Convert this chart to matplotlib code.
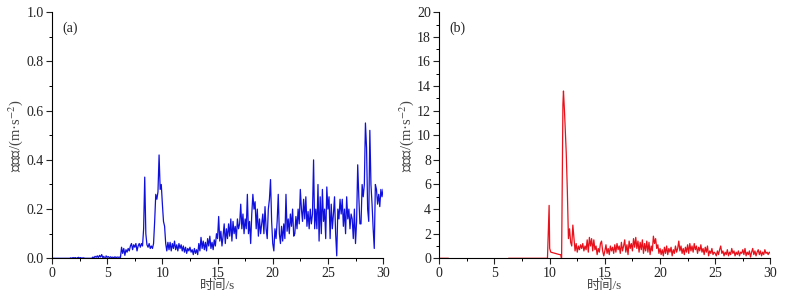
import numpy as np
import matplotlib
matplotlib.use("Agg")
import matplotlib.pyplot as plt
from matplotlib.ticker import MultipleLocator

plt.rcParams['mathtext.fontset'] = 'stix'
plt.rcParams['font.family'] = ['Liberation Serif', 'Noto Sans CJK SC', 'DejaVu Sans']

# ---------------- data (a) : 0.1 s steps, 0 .. 30 s ----------------
time_a = np.round(np.arange(0, 301) * 0.1, 1)
acc_a = [
    0, 0, 0, 0, 0, 0, 0, 0, 0, 0,
    0, 0, 0, 0, 0, 0, 0, 0.002, 0, 0.003,
    0.001, 0.003, 0, 0.002, 0.004, 0.001, 0.003, 0, 0.002, 0.001,
    0, 0, 0, 0, 0, 0, 0, 0.005, 0.002, 0.008,
    0.004, 0.01, 0.002, 0.012, 0.005, 0.015, 0.003, 0.008, -0.01, 0.01,
    0.004, 0.007, 0.002, 0.006, 0.003, 0.005, 0.002, 0.006, 0.003, 0.005,
    0.004, 0.005, 0.003, 0.045, 0.02, 0.04, 0.012, 0.035, 0.025, 0.04,
    0.03, 0.05, 0.06, 0.035, 0.055, 0.045, 0.06, 0.03, 0.05, 0.06,
    0.045, 0.06, 0.05, 0.12, 0.33, 0.1, 0.055, 0.045, 0.06, 0.04,
    0.05, 0.04, 0.06, 0.15, 0.26, 0.24, 0.27, 0.42, 0.28, 0.30,
    0.22, 0.15, 0.13, 0.06, 0.03, 0.065, 0.035, 0.065, 0.03, 0.06,
    0.04, 0.07, 0.035, 0.055, 0.03, 0.06, 0.04, 0.055, 0.03, 0.05,
    0.025, 0.045, 0.02, 0.04, 0.03, 0.045, 0.025, 0.035, 0.015, 0.04,
    0.02, 0.035, 0.015, 0.06, 0.03, 0.085, 0.04, 0.07, 0.035, 0.065,
    0.03, 0.08, 0.05, 0.09, 0.04, 0.065, 0.035, 0.075, 0.05, 0.10,
    0.08, 0.17, 0.07, 0.11, 0.05, 0.09, 0.14, 0.06, 0.12, 0.08,
    0.14, 0.09, 0.16, 0.07, 0.15, 0.10, 0.13, 0.08, 0.16, 0.12,
    0.14, 0.22, 0.12, 0.18, 0.10, 0.16, 0.12, 0.26, 0.10, 0.15,
    0.06, 0.18, 0.26, 0.20, 0.23, 0.12, 0.20, 0.09, 0.16, 0.10,
    0.14, 0.18, 0.10, 0.21, 0.12, 0.08, 0.20, 0.24, 0.32, 0.15,
    0.06, 0.03, 0.12, 0.08, 0.15, 0.26, 0.10, 0.06, 0.13, 0.07,
    0.14, 0.08, 0.26, 0.11, 0.16, 0.10, 0.18, 0.13, 0.20, 0.09,
    0.10, 0.17, 0.12, 0.20, 0.14, 0.28, 0.20, 0.15, 0.24, 0.16,
    0.25, 0.13, 0.19, 0.12, 0.20, 0.14, 0.18, 0.40, 0.12, 0.20,
    0.12, 0.30, 0.07, 0.25, 0.10, 0.28, 0.15, 0.20, 0.08, 0.29,
    0.20, 0.25, 0.08, 0.22, 0.12, 0.18, 0.25, 0.10, 0.01, 0.20,
    0.16, 0.24, 0.18, 0.24, 0.13, 0.20, 0.10, 0.25, 0.16, 0.20,
    0.12, 0.18, 0.16, 0.08, 0.20, 0.06, 0.15, 0.38, 0.25, 0.14,
    0.14, 0.30, 0.25, 0.30, 0.55, 0.45, 0.20, 0.15, 0.52, 0.30,
    0.22, 0.12, 0.04, 0.30, 0.28, 0.22, 0.26, 0.21, 0.28, 0.25,
    0.28,
]

# ---------------- data (b) ----------------
time_b = [0.0, 0.8, 0.81, 6.3, 9.8, 9.95, 10.0, 10.1, 10.3, 10.5, 10.7, 10.9, 11.0,
          11.08, 11.2, 11.25, 11.35, 11.5, 11.6, 11.7, 11.8, 11.9,
          12.0, 12.1, 12.2, 12.3, 12.4, 12.5, 12.6, 12.7, 12.8, 12.9,
          13.0, 13.1, 13.2, 13.3, 13.4, 13.5, 13.6, 13.7, 13.8, 13.9,
          14.0, 14.1, 14.2, 14.3, 14.4, 14.5, 14.6, 14.7, 14.8, 14.9,
          15.0, 15.1, 15.2, 15.3, 15.4, 15.5, 15.6, 15.7, 15.8, 15.9,
          16.0, 16.1, 16.2, 16.3, 16.4, 16.5, 16.6, 16.7, 16.8, 16.9,
          17.0, 17.1, 17.2, 17.3, 17.4, 17.5, 17.6, 17.7, 17.8, 17.9,
          18.0, 18.1, 18.2, 18.3, 18.4, 18.5, 18.6, 18.7, 18.8, 18.9,
          19.0, 19.1, 19.2, 19.3, 19.4, 19.5, 19.6, 19.7, 19.8, 19.9,
          20.0, 20.1, 20.2, 20.3, 20.4, 20.5, 20.6, 20.7, 20.8, 20.9,
          21.0, 21.1, 21.2, 21.3, 21.4, 21.5, 21.6, 21.7, 21.8, 21.9,
          22.0, 22.1, 22.2, 22.3, 22.4, 22.5, 22.6, 22.7, 22.8, 22.9,
          23.0, 23.1, 23.2, 23.3, 23.4, 23.5, 23.6, 23.7, 23.8, 23.9,
          24.0, 24.1, 24.2, 24.3, 24.4, 24.5, 24.6, 24.7, 24.8, 24.9,
          25.0, 25.1, 25.2, 25.3, 25.4, 25.5, 25.6, 25.7, 25.8, 25.9,
          26.0, 26.1, 26.2, 26.3, 26.4, 26.5, 26.6, 26.7, 26.8, 26.9,
          27.0, 27.1, 27.2, 27.3, 27.4, 27.5, 27.6, 27.7, 27.8, 27.9,
          28.0, 28.1, 28.2, 28.3, 28.4, 28.5, 28.6, 28.7, 28.8, 28.9,
          29.0, 29.1, 29.2, 29.3, 29.4, 29.5, 29.6, 29.7, 29.8, 29.9,
          30.0]
acc_b = [0.0, 0.0, np.nan, 0.0, 0.0, 4.3, 0.8, 0.5, 0.45, 0.4, 0.35, 0.3, 0.3,
         -0.1, 12.5, 13.6, 11.8, 8.6, 5.5, 1.6, 2.4, 1.3,
         1.0, 2.7, 1.6, 0.6, 1.2, 0.5, 1.0, 0.7, 1.1, 0.8,
         1.2, 0.6, 1.0, 0.7, 1.5, 0.5, 1.7, 1.0, 1.6, 0.6,
         1.5, 0.7, 1.0, 0.3, 0.8, 0.5, 1.2, 1.4, 0.6, 0.2,
         0.6, 1.1, 0.4, 0.8, 0.3, 1.0, 0.6, 0.9, 0.4, 1.1,
         0.5, 1.2, 0.7, 1.0, 0.4, 1.3, 0.6, 1.0, 1.5, 0.5,
         1.1, 0.3, 1.4, 0.8, 1.2, 0.6, 1.6, 0.9, 1.7, 0.8,
         1.4, 0.5, 1.3, 0.7, 1.5, 0.4, 1.2, 0.6, 1.4, 0.5,
         1.3, 0.3, 1.0, 0.6, 1.8, 1.2, 1.6, 0.8, 1.1, 0.4,
         0.8, 0.3, 0.7, 0.2, 0.9, 0.4, 1.0, 0.3, 0.8, 0.5,
         0.9, 0.2, 0.7, 0.4, 1.0, 0.5, 0.8, 1.4, 0.6, 1.0,
         0.4, 0.8, 0.3, 0.9, 0.5, 1.1, 0.4, 1.2, 0.6, 1.0,
         0.5, 1.2, 0.7, 1.0, 0.4, 0.9, 0.6, 1.1, 0.5, 0.8,
         0.3, 0.9, 0.5, 1.0, 0.2, 0.6, 0.4, 0.8, 0.3, 0.5,
         0.4, 0.2, 0.6, 0.3, 0.7, 1.0, 0.4, 0.6, 0.2, 0.5,
         0.3, 0.7, 0.2, 0.5, 0.3, 0.8, 0.4, 0.6, 0.2, 0.5,
         0.3, 0.6, 0.2, 0.5, 0.4, 0.7, 0.3, 0.8, 0.2, 0.5,
         0.3, 0.6, 0.1, 0.5, 0.8, 0.3, 0.6, 0.2, 0.5, 0.7,
         0.3, 0.6, 0.2, 0.5, 0.3, 0.7, 0.4, 0.5, 0.3, 0.5,
         0.4]

x_ticks = [0, 5, 10, 15, 20, 25, 30]
x_label = '时间/s'
y_label = '加速度/(m·s$^{-2}$)'
panel_labels = ['(a)', '(b)']

fig = plt.figure(figsize=(7.92, 2.95), dpi=100)
ax_a = fig.add_axes([0.0657, 0.1244, 0.418, 0.834])
ax_b = fig.add_axes([0.5547, 0.1244, 0.418, 0.834])

ax_a.plot(time_a, acc_a, color='#1010dd', lw=0.9)
ax_b.plot(time_b, acc_b, color='#e8101a', lw=0.9)

label_color = '#444444'
for ax, ymax, ymaj, ymin, fmt, lab in [
        (ax_a, 1.0, 0.2, 0.1, '%.1f', panel_labels[0]),
        (ax_b, 20, 2, 1, '%d', panel_labels[1])]:
    ax.set_xlim(0, 30)
    ax.set_ylim(0, ymax)
    ax.set_xticks(x_ticks)
    ax.xaxis.set_minor_locator(MultipleLocator(2.5))
    ax.yaxis.set_major_locator(MultipleLocator(ymaj))
    ax.yaxis.set_minor_locator(MultipleLocator(ymin))
    ax.yaxis.set_major_formatter(matplotlib.ticker.FormatStrFormatter(fmt))
    for s in ['top', 'right']:
        ax.spines[s].set_visible(False)
    for s in ['left', 'bottom']:
        ax.spines[s].set_linewidth(0.8)
    ax.tick_params(which='major', direction='out', length=4, width=0.8,
                   labelsize=10, pad=2, colors='#222222')
    ax.tick_params(which='minor', direction='out', length=2, width=0.7)
    ax.set_xlabel(x_label, fontsize=9.5, color=label_color, labelpad=0)
    ax.set_ylabel(y_label, fontsize=10.5, color=label_color, labelpad=1)
    ax.text(0.03, 0.935, lab, transform=ax.transAxes, fontsize=10,
            va='center', ha='left', color='#222222')

fig.savefig('out.png', dpi=100)
